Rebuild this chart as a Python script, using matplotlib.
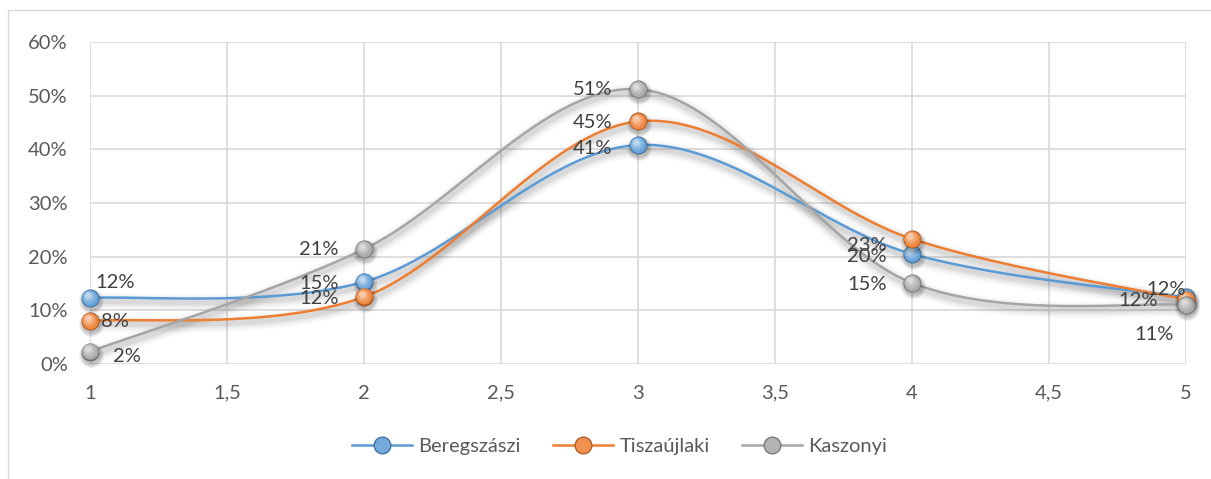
import numpy as np
import matplotlib
matplotlib.use("Agg")
import matplotlib.pyplot as plt
import matplotlib.transforms as mtransforms
from matplotlib.colors import to_rgb
from matplotlib.lines import Line2D
from matplotlib.ticker import FuncFormatter, MultipleLocator

plt.rcParams['font.family'] = ['Lato', 'DejaVu Sans']

# data
x_vals = [1, 2, 3, 4, 5]
beregszaszi = [0.123, 0.153, 0.408, 0.205, 0.124]
tiszaujlaki = [0.080, 0.125, 0.452, 0.233, 0.120]
kaszonyi = [0.023, 0.214, 0.512, 0.151, 0.110]
series_names = ['Beregszászi', 'Tiszaújlaki', 'Kaszonyi']
series_colors = ['#5B9BD5', '#ED7D31', '#A5A5A5']

# label offsets in pixels (dx, dy) for each point
label_offsets = [
    [(25, 15), (-45, -2), (-45, -3), (-45, -3), (-20, 8)],
    [(25, 0), (-45, -2), (-45, -1), (-45, -7), (-48, -1)],
    [(37, -5), (-45, 0), (-45, 0), (-45, -2), (-32, -30)],
]


def smooth(xs, ys, n=60):
    # Excel-like smoothed line: cubic bezier with catmull-rom control points
    xs = np.asarray(xs, float)
    ys = np.asarray(ys, float)
    pts = np.column_stack([xs, ys])
    out = []
    for i in range(len(pts) - 1):
        p0 = pts[i - 1] if i > 0 else pts[i]
        p1 = pts[i]
        p2 = pts[i + 1]
        p3 = pts[i + 2] if i + 2 < len(pts) else pts[i + 1]
        c1 = p1 + (p2 - p0) / 6.0
        c2 = p2 - (p3 - p1) / 6.0
        t = np.linspace(0, 1, n)[:, None]
        seg = ((1 - t) ** 3) * p1 + 3 * ((1 - t) ** 2) * t * c1 + 3 * (1 - t) * t ** 2 * c2 + t ** 3 * p2
        out.append(seg if i == 0 else seg[1:])
    out = np.vstack(out)
    return out[:, 0], out[:, 1]


def blend(c, w, f):
    c = np.array(to_rgb(c))
    w = np.array(to_rgb(w))
    return tuple(c * (1 - f) + w * f)


def sphere(ax, x, y, color, size=13, zorder=5):
    fig = ax.figure
    # shadow
    for k in range(4):
        tr = mtransforms.offset_copy(ax.transData, fig=fig, x=1, y=-3, units='dots')
        ax.plot(x, y, 'o', ms=size + 5 - k * 1.5, color='#000000', alpha=0.06,
                mec='none', transform=tr, zorder=zorder)
    ax.plot(x, y, 'o', ms=size, color=blend(color, '#000000', 0.3), mec='none', zorder=zorder)
    steps = 8
    for k in range(1, steps):
        f = k / steps
        tr = mtransforms.offset_copy(ax.transData, fig=fig, x=-2.5 * f, y=3.5 * f, units='dots')
        ax.plot(x, y, 'o', ms=size * (1 - 0.8 * f), color=blend(color, '#ffffff', 0.7 * f ** 1.3),
                mec='none', transform=tr, zorder=zorder)


fig = plt.figure(figsize=(12.11, 4.79), dpi=100)
ax = fig.add_axes([0.0743, 0.2401, 0.9051, 0.6722])

ax.set_xlim(1, 5)
ax.set_ylim(0, 0.6)
ax.xaxis.set_major_locator(MultipleLocator(0.5))
ax.yaxis.set_major_locator(MultipleLocator(0.1))
ax.xaxis.set_major_formatter(FuncFormatter(lambda v, p: f'{v:g}'.replace('.', ',')))
ax.yaxis.set_major_formatter(FuncFormatter(lambda v, p: f'{v * 100:.0f}%'))
ax.grid(True, color='#D9D9D9', lw=1.2)
ax.set_axisbelow(True)
for s in ax.spines.values():
    s.set_visible(False)
ax.tick_params(length=0, labelsize=14.5, labelcolor='#595959')
ax.tick_params(axis='y', pad=16)
ax.tick_params(axis='x', pad=15)

all_series = [beregszaszi, tiszaujlaki, kaszonyi]
for vals, color in zip(all_series, series_colors):
    sx, sy = smooth(x_vals, vals)
    # blurred drop shadow
    for w, a in [(12, 0.035), (9, 0.05), (6, 0.07), (3.5, 0.09)]:
        tr = mtransforms.offset_copy(ax.transData, fig=fig, x=1, y=-4, units='dots')
        ax.plot(sx, sy, color='#606060', lw=w, alpha=a, solid_capstyle='round',
                transform=tr, zorder=2, clip_on=False)
    ax.plot(sx, sy, color=color, lw=1.8, zorder=3, clip_on=False)

for vals, color in zip(all_series, series_colors):
    for xv, yv in zip(x_vals, vals):
        sphere(ax, xv, yv, color)

for vals, offs in zip(all_series, label_offsets):
    for xv, yv, (dx, dy) in zip(x_vals, vals, offs):
        ax.annotate(f'{yv * 100:.0f}%', (xv, yv), xytext=(dx, dy), textcoords='offset pixels',
                    ha='center', va='center', fontsize=14.5, color='#404040', zorder=6)

for a in ax.lines:
    a.set_clip_on(False)

# legend
handles = []
for name, color in zip(series_names, series_colors):
    handles.append(Line2D([0], [0], color=color, lw=1.8, marker='o', ms=12,
                          mfc=blend(color, '#ffffff', 0.15), mec=blend(color, '#000000', 0.25)))
leg = fig.legend(handles, series_names, loc='center', bbox_to_anchor=(0.5116, 0.067), ncol=3,
                 frameon=False, fontsize=14.5, handlelength=3.0, columnspacing=1.6, handletextpad=0.3)
for t in leg.get_texts():
    t.set_color('#595959')

# chart area border
fig.patches.append(plt.Rectangle((8 / 1211, -0.01), 1.02, 1 - 10 / 479 + 0.01, transform=fig.transFigure,
                                 fill=False, edgecolor='#D9D9D9', lw=1))

fig.savefig('out.png', dpi=100)
